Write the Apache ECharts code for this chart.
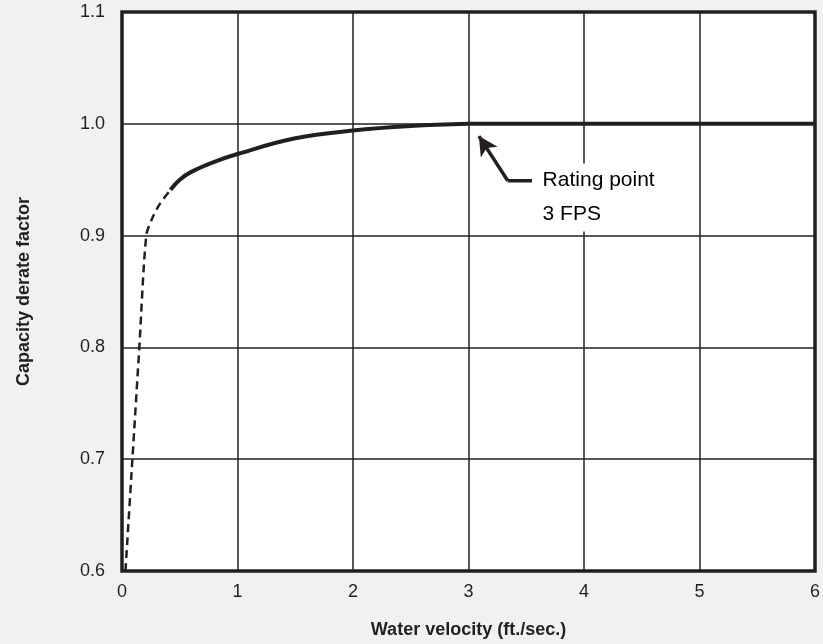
<!DOCTYPE html>
<html><head><meta charset="utf-8">
<script src="https://cdn.jsdelivr.net/npm/echarts@6/dist/echarts.min.js"></script>
<style>html,body{margin:0;padding:0;background:#eff1f3;}#c{width:823px;height:644px;}</style>
</head><body><div id="c"></div>
<script>
const xTicks = [0, 1, 2, 3, 4, 5, 6];
const yTicks = [0.6, 0.7, 0.8, 0.9, 1.0, 1.1];
const dashedCurve = [[0.03, 0.6], [0.09, 0.7], [0.15, 0.8], [0.21, 0.9], [0.26, 0.915], [0.32, 0.927], [0.42, 0.941]];
const solidCurve = [[0.42, 0.941], [0.5, 0.95], [0.6, 0.957], [0.8, 0.966], [1.0, 0.973], [1.5, 0.987], [2.0, 0.994], [2.5, 0.998], [3.0, 1.0]];
const flatLine = [[3.0, 1.0], [6.0, 1.0]];
const arrowTip = [3.09, 0.989];
const arrowCorner = [3.34, 0.949];
const arrowEnd = [3.55, 0.949];
const notePos = [3.62, 0.934];
const noteText = ['Rating point', '3 FPS'];

const ink = '#231f20';
const font = '"Liberation Sans", Arial, sans-serif';
const chart = echarts.init(document.getElementById('c'));
chart.setOption({
  backgroundColor: '#eff1f3',
  animation: false,
  grid: { left: 122, right: 7, top: 12, bottom: 71, show: true, backgroundColor: '#ffffff', borderColor: ink, borderWidth: 3.5 },
  xAxis: {
    type: 'value', min: xTicks[0], max: xTicks[xTicks.length - 1], interval: 1,
    axisLine: { show: false }, axisTick: { show: false },
    splitLine: { show: true, lineStyle: { color: ink, width: 1.5 } },
    axisLabel: { color: ink, fontSize: 18, fontFamily: font, margin: 12 },
    name: 'Water velocity (ft./sec.)', nameLocation: 'middle', nameGap: 50,
    nameTextStyle: { color: ink, fontSize: 18, fontWeight: 'bold', fontFamily: font }
  },
  yAxis: {
    type: 'value', min: yTicks[0], max: yTicks[yTicks.length - 1], interval: 0.1,
    axisLine: { show: false }, axisTick: { show: false },
    splitLine: { show: true, lineStyle: { color: ink, width: 1.5 } },
    axisLabel: { color: ink, fontSize: 18, fontFamily: font, margin: 17, formatter: v => v.toFixed(1) },
    name: 'Capacity derate factor', nameLocation: 'middle', nameGap: 89,
    nameTextStyle: { color: ink, fontSize: 18, fontWeight: 'bold', fontFamily: font }
  },
  series: [
    { type: 'line', data: dashedCurve, smooth: 0.3, symbol: 'none', lineStyle: { color: ink, width: 2.5, type: [8, 5] } },
    { type: 'line', data: solidCurve, smooth: 0.4, symbol: 'none', lineStyle: { color: ink, width: 4 } },
    { type: 'line', data: flatLine, symbol: 'none', lineStyle: { color: ink, width: 4 } },
    {
      type: 'line', data: [arrowCorner, arrowEnd], symbol: 'none', lineStyle: { color: ink, width: 3.5 },
      markLine: {
        silent: true, symbol: ['none', 'arrow'], symbolSize: [15, 19], label: { show: false },
        lineStyle: { color: ink, width: 3.5, type: 'solid' },
        data: [[{ coord: arrowCorner }, { coord: arrowTip }]]
      }
    },
    {
      type: 'scatter', symbolSize: 1, silent: true, z: 5,
      itemStyle: { color: 'rgba(0,0,0,0)', opacity: 1 },
      data: [{ value: notePos }],
      label: {
        show: true, position: 'right', distance: 0, opacity: 1,
        formatter: () => noteText.join('\n'),
        color: '#000', fontSize: 21, lineHeight: 34, fontFamily: font,
        backgroundColor: '#ffffff', padding: [0, 6, 0, 2]
      }
    }
  ]
});
</script></body></html>
